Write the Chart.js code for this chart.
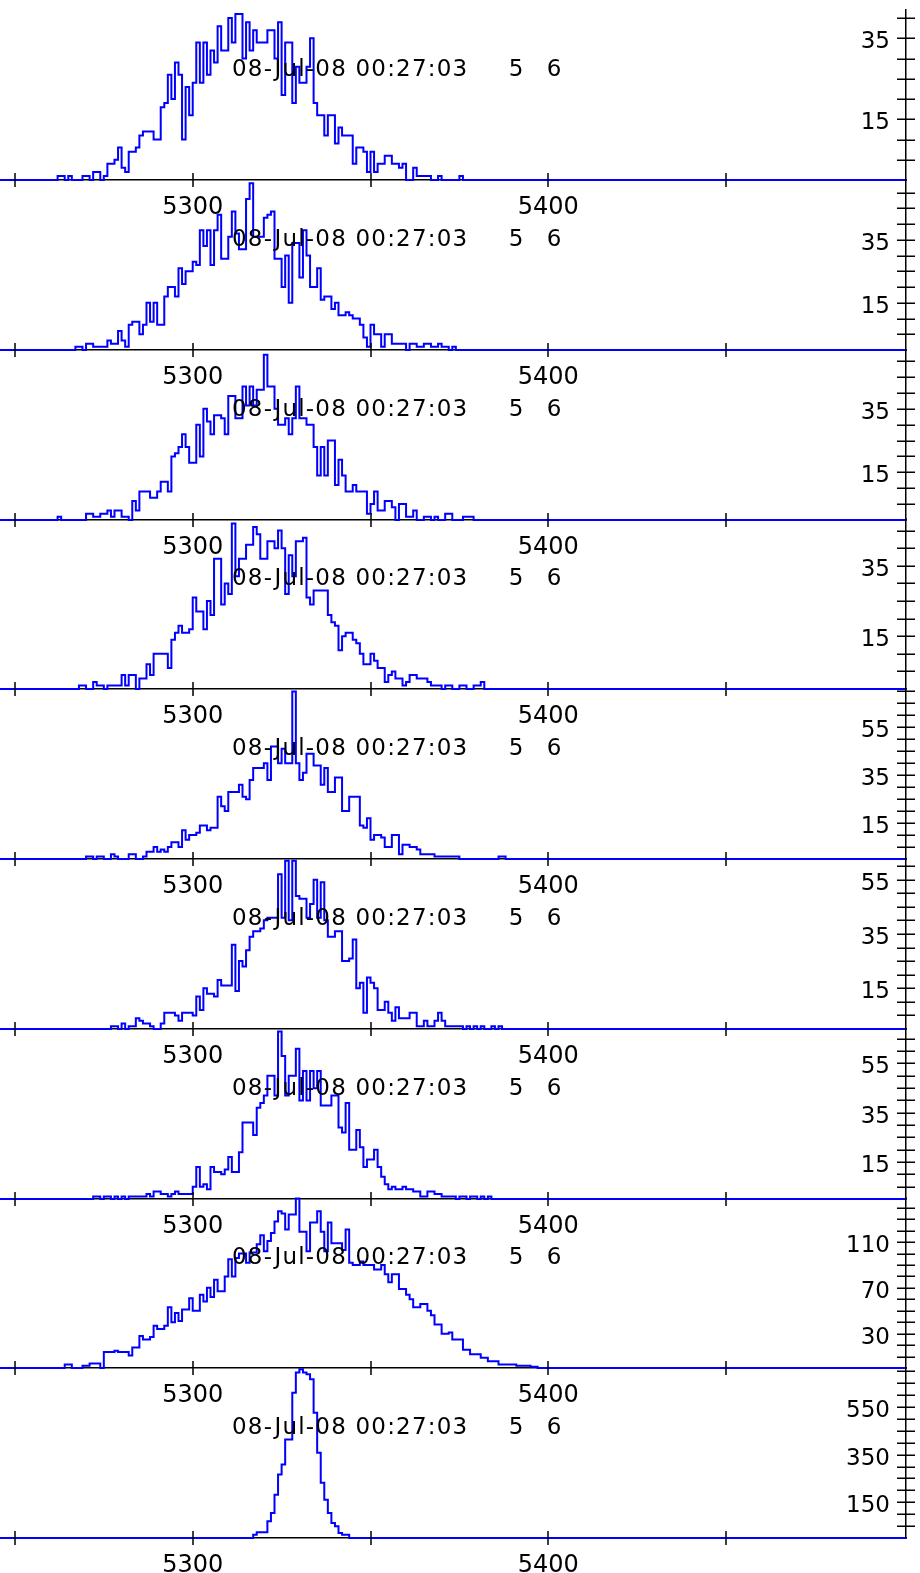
<!DOCTYPE html>
<html>
<head>
<meta charset="utf-8">
<script src="https://cdn.jsdelivr.net/npm/chart.js@4.4.1/dist/chart.umd.min.js"></script>
<style>
  html, body { margin: 0; padding: 0; background: #fff; }
  #stack { position: relative; width: 920px; height: 1573px; overflow: hidden; }
  #stack canvas { position: absolute; left: 0; }
</style>
</head>
<body>
<div id="stack"></div>
<script>
const X_MIN = 5245.8;
const X_MAX = 5500.6;
const BIN_LO = 5245;
const BIN_HI = 5501;
const X_TICKS = [5250, 5300, 5350, 5400, 5450];
const X_LABELS = [5300, 5400];

const STAMP = "08-Jul-08 00:27:03";
const RUN_IDS = ["5", "6"];

// counts per 1-unit bin, first bin starts at startN
const start1 = 5262;
const counts1 = [1,1,0,1,0,0,0,1,1,0, 2,2,0,1,4,4,5,8,3,2, 7,7,8,11,12,12,12,10,10,18,
  19,26,20,29,26,10,23,16,24,34, 24,34,26,32,29,38,32,32,40,34, 41,41,30,39,32,37,34,34,34,37,
  37,30,39,21,34,34,19,28,24,24, 28,35,19,16,16,11,16,16,9,13, 11,11,11,4,8,8,7,2,7,2,
  4,4,6,6,4,4,3,4,0,0, 3,1,1,1,1,0,0,1,0,0, 0,0,0,1];

const start2 = 5267;
const counts2 = [1,1,0,2,2,1,1,1,1,3, 2,2,6,3,1,8,9,9,5,8, 15,9,15,8,8,17,20,20,17,26,
  21,25,25,28,27,38,33,38,27,38, 43,29,29,36,44,37,32,32,48,53, 36,36,36,42,43,44,29,29,20,30,
  15,34,34,23,38,30,20,20,26,16, 17,17,13,15,11,11,12,11,10,10, 8,4,1,8,5,5,1,5,5,2,
  2,2,2,0,2,2,1,1,2,2, 1,1,2,1,1,0,1];

const start3 = 5262;
const counts3 = [1,0,0,0,0,0,0,0,2,2, 1,1,2,2,3,1,3,3,1,1, 0,6,3,9,9,9,7,7,9,12,
  12,9,20,21,23,27,23,18,18,30, 20,35,31,27,33,33,32,27,39,39, 32,32,42,36,42,36,41,41,52,42,
  42,35,30,30,32,27,32,42,32,32, 30,30,23,14,23,14,25,25,11,19, 14,9,9,11,9,9,9,2,5,9,
  3,3,6,6,4,0,5,5,1,1, 3,0,0,1,1,0,1,0,0,2, 2,0,0,0,1,1,1];

const start4 = 5268;
const counts4 = [1,1,0,0,2,1,1,0,1,1, 1,1,4,1,4,4,0,3,3,7, 4,10,10,10,10,6,14,16,18,16,
  16,17,26,22,22,17,25,21,37,37, 24,30,27,47,32,37,37,41,41,46, 44,37,37,42,42,40,45,40,27,38,
  32,42,42,43,26,24,28,28,28,28, 21,19,18,11,15,16,16,14,13,10, 7,7,10,8,6,6,2,4,5,3,
  3,1,2,4,4,3,3,3,2,1, 1,1,0,1,1,0,0,1,1,0, 0,1,1,2];

const start5 = 5268;
const counts5 = [0,0,1,1,0,1,1,0,0,2, 1,0,0,0,2,2,0,0,1,3, 3,5,3,4,3,5,7,7,5,12,
  8,10,10,11,14,14,12,13,13,26, 22,20,28,28,28,31,26,25,33,38, 38,38,40,33,47,47,40,46,40,40,
  70,40,33,36,44,44,39,39,31,38, 28,28,34,34,20,20,26,26,26,14, 13,17,8,10,10,9,5,5,10,10,
  2,6,6,5,5,4,2,2,2,2, 1,1,1,1,1,1,1,0,0,0, 0,0,0,0,0,0,0,0,1,1];

const start6 = 5277;
const counts6 = [1,1,0,2,0,1,1,4,3,2, 2,1,0,0,2,6,6,6,5,3, 6,6,6,5,12,7,15,13,13,12,
  18,16,16,16,31,14,25,23,29,34, 36,36,37,40,41,41,41,57,41,62, 40,62,49,48,48,41,46,55,41,54,
  40,34,34,36,36,25,25,26,33,15, 17,6,19,17,15,7,7,10,6,3, 8,4,4,4,6,6,1,1,3,1,
  1,3,6,3,1,1,1,1,1,0, 1,0,1,0,1,0,0,1,0,1];

const start7 = 5272;
const counts7 = [1,1,0,1,1,0,1,0,1,0, 1,1,1,1,1,2,1,3,3,2, 2,1,2,3,2,2,2,2,5,13,
  5,6,4,13,11,11,10,12,17,11, 11,19,31,31,31,26,37,39,42,50, 50,42,68,58,42,50,50,61,40,52,
  40,52,45,52,38,38,38,42,42,29, 27,39,20,20,28,21,13,16,16,20, 13,9,6,4,5,4,4,5,4,4,
  3,3,1,1,3,3,2,2,1,1, 1,1,0,1,1,0,1,1,0,1, 0,1];

const start8 = 5264;
const counts8 = [3,3,0,0,0,2,2,4,4,4, 0,14,14,14,15,14,14,14,11,18, 18,28,25,25,27,37,34,34,37,53,
  40,48,41,51,51,61,50,50,64,58, 70,62,77,67,67,80,95,80,96,100, 100,92,101,101,108,116,102,111,118,128,
  137,135,121,134,134,148,119,119,102,127, 127,137,119,102,127,109,109,109,103,121, 92,90,90,93,90,90,90,86,86,90,
  82,75,82,82,69,69,64,60,53,53, 56,56,50,46,38,38,30,30,31,25, 25,25,16,16,12,12,12,9,9,6,
  6,6,3,3,3,3,3,2,2,2, 2,1,1];

const start9 = 5317;
const counts9 = [14,24,24,24,70,105,182,267,309,414, 414,610,695,709,695,688,667,526,358,232,
  161,105,63,49,21,14,14];

// y range, minor tick step and labelled ticks of each panel, top to bottom
const Y_MAX = [42, 54, 53.5, 48.3, 71, 62.6, 69, 148.5, 714];
const Y_STEP = [5, 5, 5, 5, 5, 5, 5, 10, 50];
const Y_LABELS = [
  [15, 35], [15, 35], [15, 35], [15, 35],
  [15, 35, 55], [15, 35, 55], [15, 35, 55],
  [30, 70, 110],
  [150, 350, 550],
];

const PANELS = [
  [start1, counts1], [start2, counts2], [start3, counts3],
  [start4, counts4], [start5, counts5], [start6, counts6],
  [start7, counts7], [start8, counts8], [start9, counts9],
];

// layout in page pixels
const FIRST_BASE = 180;
const BASE_GAP = 169.75;
const PLOT_H = 170;
const PAD_TOP = 20;
const AXIS_H = 45;
const WIDTH = 920;
const AXIS_X = 906;

const FONT = '"DejaVu Sans", "Liberation Sans", sans-serif';
Chart.defaults.font.family = FONT;
Chart.defaults.color = "#000";

function histPoints(start, counts) {
  const pts = [];
  for (let k = BIN_LO; k < BIN_HI; k++) {
    const i = k - start;
    pts.push({ x: k + 0.5, y: i >= 0 && i < counts.length ? counts[i] : 0 });
  }
  return pts;
}

function yTickValues(max, step) {
  const vals = [];
  for (let v = step; v < max; v += step) vals.push(v);
  return vals;
}

// ticks that cross both axes
const crossTicks = {
  id: "crossTicks",
  afterDraw(chart) {
    const { ctx, chartArea: a, scales } = chart;
    ctx.save();
    ctx.strokeStyle = "#000";
    ctx.lineWidth = 1.5;
    ctx.beginPath();
    for (const t of scales.y.ticks) {
      const py = Math.round(scales.y.getPixelForValue(t.value)) + 0.25;
      ctx.moveTo(a.right - 9, py);
      ctx.lineTo(a.right + 9, py);
    }
    for (const v of X_TICKS) {
      const px = Math.round(scales.x.getPixelForValue(v));
      ctx.moveTo(px, a.bottom - 7);
      ctx.lineTo(px, a.bottom + 7);
    }
    ctx.stroke();
    ctx.restore();
  },
};

// date stamp and run numbers written inside each panel
const stampText = {
  id: "stampText",
  afterDraw(chart) {
    const { ctx, chartArea: a } = chart;
    const y = a.bottom - 104;
    ctx.save();
    ctx.fillStyle = "#000";
    ctx.font = "23px " + FONT;
    ctx.textBaseline = "alphabetic";
    ctx.textAlign = "left";
    ctx.letterSpacing = "1.2px";
    ctx.fillText(STAMP, 232, y);
    ctx.letterSpacing = "0px";
    ctx.textAlign = "center";
    ctx.fillText(RUN_IDS[0], 516, y);
    ctx.fillText(RUN_IDS[1], 554, y);
    ctx.restore();
  },
};

function createPanel(index) {
  const [start, counts] = PANELS[index];
  const base = FIRST_BASE + BASE_GAP * index;
  const canvas = document.createElement("canvas");
  canvas.width = WIDTH;
  canvas.height = PAD_TOP + PLOT_H + AXIS_H;
  canvas.style.top = (base - PLOT_H - PAD_TOP) + "px";
  document.getElementById("stack").appendChild(canvas);

  const yTicks = yTickValues(Y_MAX[index], Y_STEP[index]);
  const labels = Y_LABELS[index];

  return new Chart(canvas.getContext("2d"), {
    type: "line",
    data: {
      datasets: [{
        data: histPoints(start, counts),
        borderColor: "#0000ff",
        borderWidth: 2,
        stepped: "middle",
        pointRadius: 0,
        fill: false,
        clip: 3,
      }],
    },
    options: {
      responsive: false,
      animation: false,
      events: [],
      layout: { padding: { top: PAD_TOP, left: 0, right: 0, bottom: 0 } },
      plugins: {
        legend: { display: false },
        tooltip: { enabled: false },
      },
      scales: {
        x: {
          type: "linear",
          min: X_MIN,
          max: X_MAX,
          grid: { display: false },
          border: { display: true, color: "#000", width: 1.5 },
          afterBuildTicks: (s) => { s.ticks = X_TICKS.map((v) => ({ value: v })); },
          afterFit: (s) => { s.height = AXIS_H; },
          ticks: {
            autoSkip: false,
            maxRotation: 0,
            padding: 5,
            color: "#000",
            font: { size: 24 },
            callback: (v) => (X_LABELS.includes(v) ? String(v) : ""),
          },
        },
        y: {
          type: "linear",
          position: "right",
          min: 0,
          max: Y_MAX[index],
          grid: { display: false },
          border: { display: true, color: "#000", width: 1.5 },
          afterBuildTicks: (s) => { s.ticks = yTicks.map((v) => ({ value: v })); },
          afterFit: (s) => { s.width = WIDTH - AXIS_X; },
          ticks: {
            autoSkip: false,
            mirror: true,
            padding: -16,
            labelOffset: 4,
            color: "#000",
            font: { size: 23 },
            callback: (v) => (labels.includes(v) ? String(v) : ""),
          },
        },
      },
    },
    plugins: [crossTicks, stampText],
  });
}

PANELS.forEach((_, i) => createPanel(i));
</script>
</body>
</html>
